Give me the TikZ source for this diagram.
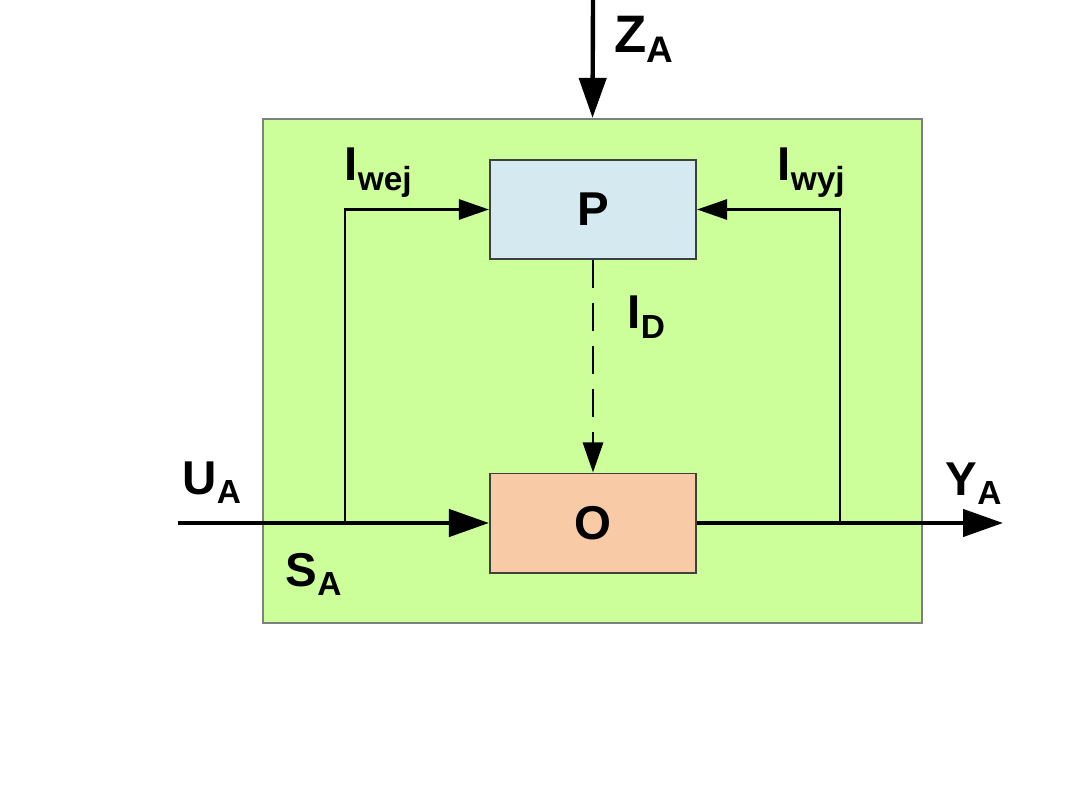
\documentclass[tikz,border=0pt]{standalone}
\usepackage{fontspec}
\setmainfont{Liberation Sans}
\usetikzlibrary{arrows.meta}
\definecolor{sysgreen}{HTML}{CCFF99}
\definecolor{pblue}{HTML}{D4EAF0}
\definecolor{opeach}{HTML}{F8CBA6}
\definecolor{edgegray}{HTML}{7F7F7F}
\definecolor{boxedge}{HTML}{404040}
\newcommand{\lbl}[2]{{\fontsize{13.5}{14}\selectfont\bfseries #1\raisebox{-2.6pt}{\fontsize{9.5}{10}\selectfont\bfseries #2}}}
\newcommand{\biglbl}[2]{{\fontsize{15}{16}\selectfont\bfseries #1\raisebox{-2.6pt}{\fontsize{10.5}{11}\selectfont\bfseries #2}}}
\tikzset{
  blk/.style={draw=boxedge, line width=0.55pt, minimum width=2.06cm, minimum height=0.99cm, inner sep=0pt, font=\fontsize{13.5}{14}\selectfont\bfseries},
  sysbox/.style={draw=edgegray, line width=0.55pt, fill=sysgreen, minimum width=6.59cm, minimum height=5.04cm, inner sep=0pt},
  mainflow/.style={line width=1.25pt, -{Triangle[length=0.4cm, width=0.27cm]}},
  infoflow/.style={line width=0.8pt, -{Triangle[length=0.3cm, width=0.2cm]}},
  lab/.style={anchor=base west, inner sep=0pt}
}
\begin{document}
\begin{tikzpicture}[x=0.01cm, y=-0.01cm]
\useasboundingbox (0,0) rectangle (1080,810);
\node[sysbox] (S) at (592.5,371) {};
\node[blk, fill=pblue] (P) at (593,209.5) {P};
\node[blk, fill=opeach] (O) at (593,523) {O};
\coordinate (ztop) at (593,0);
\coordinate (uin) at (178,523);
\coordinate (yout) at (1003,523);
\coordinate (fin) at (345,523);
\coordinate (fout) at (840,523);
\draw[mainflow] (ztop) -- (S.north);
\draw[mainflow] (uin) -- (O.west);
\draw[mainflow] (O.east) -- (yout);
\draw[infoflow] (fin) |- (P.west);
\draw[infoflow] (fout) |- (P.east);
\draw[infoflow, dash pattern=on 0.28cm off 0.15cm] (P.south) -- (O.north);
\node[lab] (lz) at (614,53) {\biglbl{Z}{A}};
\node[lab] (lwej) at (344,181) {\lbl{I}{wej}};
\node[lab] (lwyj) at (777,181) {\lbl{I}{wyj}};
\node[lab] (ld) at (627,329) {\lbl{I}{D}};
\node[lab] (lu) at (182,494) {\lbl{U}{A}};
\node[lab] (ly) at (945,495) {\lbl{Y}{A}};
\node[lab] (ls) at (285,586) {\lbl{S}{A}};
\end{tikzpicture}
\end{document}
